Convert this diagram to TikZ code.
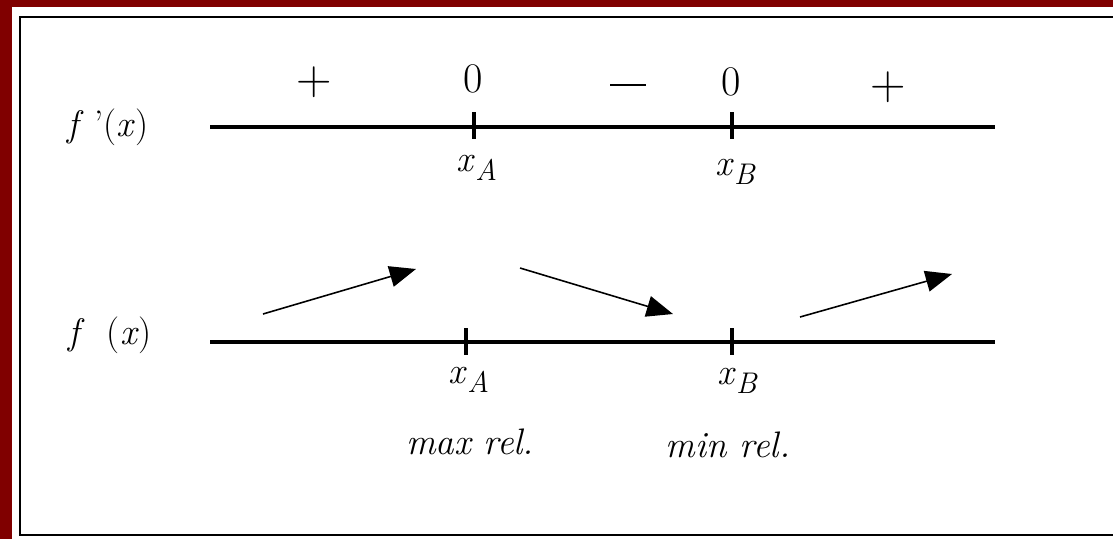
\documentclass[tikz,border=0pt]{standalone}
\usepackage{fontspec}
\usetikzlibrary{arrows.meta}
\definecolor{darkred}{RGB}{128,0,0}
\tikzset{
  lbl/.style={inner sep=0pt, font=\fontsize{21}{23}\selectfont},
  zero/.style={inner sep=0pt, font=\fontsize{24}{26}\selectfont},
  sign/.style={inner sep=0pt, font=\fontsize{28}{28}\selectfont},
  axis/.style={line width=1.8pt},
  tickmark/.style={line width=2pt},
  trend/.style={line width=0.9pt, -{Triangle[length=15pt,width=12pt]}},
}
\newcommand{\xsub}[1]{\textit{x}\raisebox{-0.55ex}{\fontsize{17}{17}\selectfont\itshape #1}}
\begin{document}
\begin{tikzpicture}[x=0.02cm,y=-0.02cm]
\useasboundingbox (0,0) rectangle (1113,539);
\fill[white] (0,0) rectangle (1113,539);
\fill[darkred] (0,0) rectangle (1113,7);
\fill[darkred] (0,0) rectangle (12,539);
\draw[line width=1.3pt] (20,17) rectangle (1125,535);

% f'(x) row
\node[lbl] (fp) at (108,127) {\textit{f}\,\kern0.1em'(\textit{x})};
\coordinate (a1) at (210,127);
\coordinate (a2) at (995,127);
\draw[axis] (a1) -- (a2);
\coordinate (tA1) at (474,112);
\coordinate (tA2) at (474,139);
\coordinate (tB1) at (732,112);
\coordinate (tB2) at (732,139);
\draw[tickmark] (tA1) -- (tA2);
\draw[tickmark] (tB1) -- (tB2);
\node[sign] (p1) at (314,82) {+};
\node[zero] (z1) at (473,79) {0};
\node[inner sep=0pt, minimum width=20pt, minimum height=1.1pt, fill=black] (m1) at (628,85) {};
\node[zero] (z2) at (731,82) {0};
\node[sign] (p2) at (888,87) {+};
\node[lbl] (xA1) at (477,168) {\xsub{A}};
\node[lbl] (xB1) at (735,172) {\xsub{B}};

% f(x) row
\node[lbl] (f) at (110,335) {\textit{f}\ \ (\textit{x})};
\coordinate (b1) at (210,342);
\coordinate (b2) at (995,342);
\draw[axis] (b1) -- (b2);
\coordinate (sA1) at (466,328);
\coordinate (sA2) at (466,355);
\coordinate (sB1) at (732,328);
\coordinate (sB2) at (732,355);
\draw[tickmark] (sA1) -- (sA2);
\draw[tickmark] (sB1) -- (sB2);
\node[lbl] (xA2) at (469,380) {\xsub{A}};
\node[lbl] (xB2) at (737,381) {\xsub{B}};

% trend arrows
\coordinate (r1s) at (263,314);
\coordinate (r1e) at (416,269);
\coordinate (r2s) at (520,268);
\coordinate (r2e) at (673,314);
\coordinate (r3s) at (800,317);
\coordinate (r3e) at (952,274);
\draw[trend] (r1s) -- (r1e);
\draw[trend] (r2s) -- (r2e);
\draw[trend] (r3s) -- (r3e);

\node[lbl, font=\fontsize{21}{23}\selectfont\itshape] (mx) at (470,442) {max rel.};
\node[lbl, font=\fontsize{21}{23}\selectfont\itshape] (mn) at (728,445) {min rel.};
\end{tikzpicture}
\end{document}
